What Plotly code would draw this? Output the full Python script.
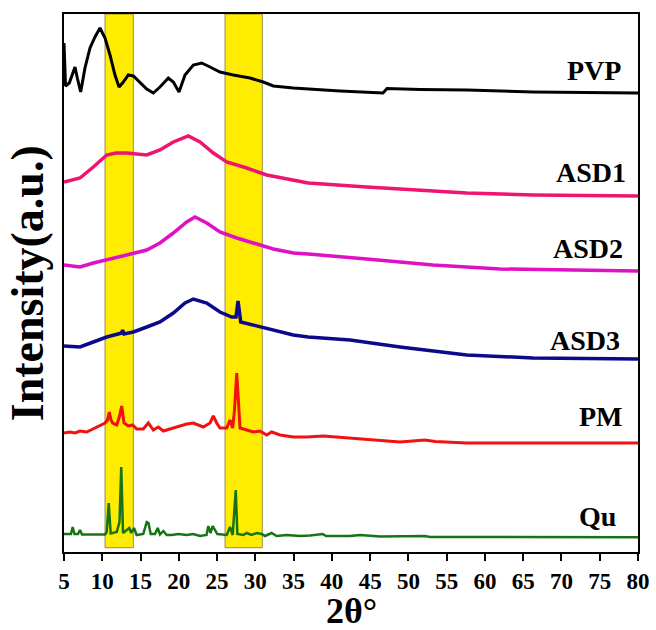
import plotly.graph_objects as go

# ---- data (2θ in degrees, intensity in arbitrary units, stacked offsets included) ----
pvp_x = [5.00, 5.20, 5.69, 6.44, 6.74, 7.18, 7.74, 8.40, 9.05, 9.70, 10.36, 11.01, 11.66, 12.19,
         12.75, 13.40, 14.06, 14.93, 15.81, 16.67, 17.54, 18.63, 19.28, 20.03, 20.81, 21.90,
         22.99, 24.08, 25.38, 27.12, 29.30, 31.04, 32.35, 34.96, 36.92, 41.06, 46.68, 47.21,
         51.52, 57.66, 66.28, 80.00]
pvp_y = [509, 466, 469, 485, 474, 460, 484, 504, 515, 524, 514, 497, 477, 465,
         470, 477, 476, 470, 463, 459, 465, 474, 470, 460, 477, 487,
         489, 485, 480, 477, 474, 470, 466, 464, 463, 461, 459, 463.5,
         462.5, 462, 460, 459]

asd1_x = [5.00, 7.09, 8.83, 10.58, 11.79, 13.19, 15.81, 17.54, 19.28, 21.24, 22.77, 24.51,
          26.26, 28.87, 31.49, 34.10, 36.92, 44.55, 57.62, 66.28, 80.00]
asd1_y = [370, 374, 385, 397, 399, 399, 397, 402, 410, 416, 410, 399,
          390, 384, 377, 373, 369, 365, 359, 357, 356]

asd2_x = [5.00, 7.09, 8.83, 10.58, 13.19, 15.81, 17.54, 19.28, 21.03, 22.12, 23.65, 25.38,
          27.57, 29.74, 32.35, 34.96, 36.92, 44.55, 53.22, 61.97, 80.00]
asd2_y = [287, 285, 289, 292, 297, 302, 309, 319, 330, 335, 329, 320,
          314, 309, 303, 299, 298, 293, 287, 283, 281]

asd3_x = [5.00, 7.09, 8.83, 10.58, 12.54, 12.66, 12.84, 14.06, 15.81, 17.54, 19.28, 20.81,
          21.90, 23.65, 25.38, 26.91, 27.47, 27.74, 28.09, 29.74, 32.35, 34.96, 36.92,
          42.37, 48.90, 57.62, 66.28, 80.00]
asd3_y = [206, 205, 210, 215, 219, 222, 218, 220, 225, 230, 239, 249,
          253, 249, 240, 235, 235, 251, 230, 227, 222, 217, 215,
          212, 205, 197, 194, 193]

pm_x = [5.00, 5.78, 6.44, 7.09, 7.97, 8.83, 9.70, 10.36, 10.68, 10.92, 11.14, 11.36, 11.89,
        12.23, 12.54, 12.71, 12.84, 13.40, 13.98, 14.49, 15.36, 16.02, 16.67, 17.32, 17.98,
        19.28, 21.03, 21.90, 23.20, 24.08, 24.51, 24.95, 25.38, 26.26, 26.69, 27.04, 27.28,
        27.57, 27.80, 28.00, 28.87, 29.74, 30.61, 31.49, 32.13, 33.22, 34.96, 36.70, 38.88,
        44.55, 48.90, 52.17, 53.48, 57.62, 80.00]
pm_y = [119, 120, 119, 121, 120, 123, 126, 129, 132, 140, 132, 129, 127,
        135, 146, 134, 129, 126, 127, 123, 123, 129, 122, 125, 121,
        124, 128, 129, 125, 129, 136, 129, 124, 124, 132, 124, 142,
        179, 142, 124, 122, 120, 121, 117, 120, 117, 115, 115, 116,
        113, 110, 112, 110.5, 109, 109]

qu_x = [5.00, 5.91, 6.14, 6.37, 6.83, 7.09, 7.35, 9.70, 10.36, 10.58, 10.84, 11.10, 11.89,
        12.25, 12.48, 12.71, 13.19, 13.53, 13.79, 14.15, 14.49, 15.36, 15.81, 16.04, 16.33,
        16.89, 17.24, 17.54, 17.98, 18.42, 19.07, 19.94, 21.03, 21.90, 22.77, 23.62, 23.86,
        24.14, 24.43, 24.73, 25.03, 26.26, 26.69, 27.04, 27.25, 27.44, 27.65, 28.43, 28.87,
        29.52, 30.17, 30.83, 31.26, 32.13, 32.78, 34.10, 35.84, 37.14, 38.80, 39.24, 42.37,
        43.68, 46.29, 52.17, 52.82, 80.00]
qu_y = [18, 18, 25, 18, 18, 22, 17.5, 17.5, 17.5, 20, 49, 18.5, 20,
        30, 85, 19, 22, 24, 19, 24, 17, 18, 30, 29, 18,
        18, 24, 17.5, 21, 17, 17, 18, 17, 18, 16, 17, 26,
        19, 26, 22, 18, 17, 25, 17, 42, 62, 18, 17, 19,
        17, 19, 18, 16, 19, 16, 17, 16, 16.5, 18, 16, 16,
        17, 15.5, 16, 15, 14.7]

series_names = ["PVP", "ASD1", "ASD2", "ASD3", "PM", "Qu"]
series_x = [pvp_x, asd1_x, asd2_x, asd3_x, pm_x, qu_x]
series_y = [pvp_y, asd1_y, asd2_y, asd3_y, pm_y, qu_y]
series_colors = ["#000000", "#EE1470", "#E010C4", "#0A0A8A", "#F21010", "#167416"]
series_widths = [3, 3.5, 3.5, 3.5, 3, 2.5]
label_x = [78.05, 78.7, 78.3, 77.9, 78.3, 77.4]
label_y = [482, 380, 304, 212, 136, 36]

band_ranges = [(10.36, 14.06), (26.04, 30.91)]
tick_vals = list(range(5, 81, 5))

serif = "Liberation Serif, Times New Roman, serif"

fig = go.Figure()
for name, xs, ys, c, w in zip(series_names, series_x, series_y, series_colors, series_widths):
    fig.add_trace(go.Scatter(x=xs, y=ys, mode="lines", name=name,
                             line=dict(color=c, width=w), showlegend=False))

for x0, x1 in band_ranges:
    fig.add_shape(type="rect", xref="x", yref="paper", x0=x0, x1=x1, y0=0.008, y1=1,
                  fillcolor="#FFEC00", line=dict(color="rgba(120,110,40,0.75)", width=1),
                  layer="below")

for name, lx, ly in zip(series_names, label_x, label_y):
    fig.add_annotation(x=lx, y=ly, xref="x", yref="y", text=name, showarrow=False,
                       xanchor="right", yanchor="middle",
                       font=dict(family=serif, size=28, color="black", weight="bold"))

fig.add_annotation(x=0.5, y=-0.1097, xref="paper", yref="paper", text="2θ°", showarrow=False,
                   xanchor="center", yanchor="middle",
                   font=dict(family=serif, size=36, color="black", weight="bold"))
fig.add_annotation(x=-0.064, y=0.5, xref="paper", yref="paper", text="Intensity(a.u.)",
                   showarrow=False, textangle=-90, xanchor="center", yanchor="middle",
                   font=dict(family=serif, size=46, color="black", weight="bold"))

fig.update_layout(
    template="none",
    width=656, height=630,
    margin=dict(l=64, r=18, t=14, b=78, pad=0, autoexpand=False),
    plot_bgcolor="white", paper_bgcolor="white",
    showlegend=False,
)
fig.update_xaxes(range=[5, 80], tickmode="array", tickvals=tick_vals,
                 ticktext=[str(v) for v in tick_vals], automargin=False,
                 ticks="outside", ticklen=7, tickwidth=2, tickcolor="black",
                 showline=True, linewidth=2, linecolor="black", mirror=True,
                 showgrid=False, zeroline=False,
                 tickfont=dict(family=serif, size=23, color="black", weight="bold"))
fig.update_yaxes(range=[0, 538], showticklabels=False, ticks="", automargin=False,
                 showline=True, linewidth=2, linecolor="black", mirror=True,
                 showgrid=False, zeroline=False)

fig.write_html("out.html")
